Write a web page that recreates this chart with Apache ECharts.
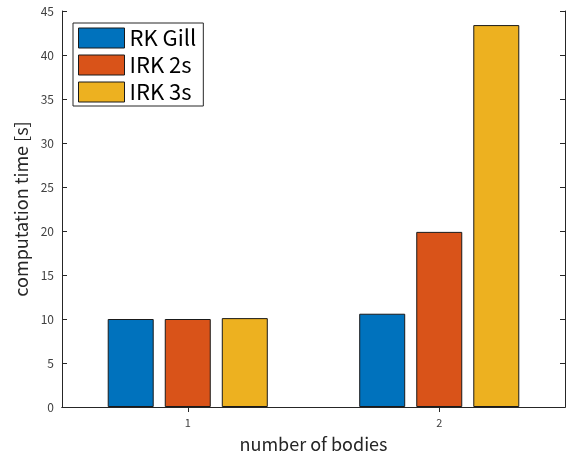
<!DOCTYPE html>
<html>
<head>
<meta charset="utf-8">
<script src="https://cdn.jsdelivr.net/npm/echarts@6/dist/echarts.min.js"></script>
<style>html,body{margin:0;padding:0;background:#fff}#c{width:566px;height:458px}</style>
</head>
<body>
<div id="c"></div>
<script>
const categories = ['1', '2'];
const seriesNames = ['RK Gill', 'IRK 2s', 'IRK 3s'];
const rkGill = [10.0, 10.6];
const irk2s = [10.0, 19.9];
const irk3s = [10.1, 43.4];
const yTicks = { min: 0, max: 45, interval: 5 };

const colors = ['#0072BD', '#D95319', '#EDB120'];
const FONT = '"Noto Sans CJK JP", "Noto Sans", sans-serif';
const chart = echarts.init(document.getElementById('c'), null, { renderer: 'canvas' });
const axisLine = { show: true, lineStyle: { color: '#262626', width: 1 } };
const tick = { show: true, inside: true, length: 5, lineStyle: { color: '#262626' } };
const makeBar = (name, data, i) => ({
  name, type: 'bar', data, barWidth: 46, barGap: '24%',
  itemStyle: { color: colors[i], borderColor: '#1a1a1a', borderWidth: 1 }
});
chart.setOption({
  animation: false,
  textStyle: { fontFamily: FONT },
  grid: { left: 62, right: 1, top: 11, bottom: 49, containLabel: false },
  legend: {
    orient: 'vertical', left: 73, top: 23,
    itemWidth: 46, itemHeight: 20, itemGap: 5,
    padding: [4, 7, 3, 5],
    borderColor: '#262626', borderWidth: 1,
    icon: 'rect',
    itemStyle: { borderColor: '#1a1a1a', borderWidth: 1 },
    textStyle: { fontSize: 22, lineHeight: 20, color: '#000', fontFamily: FONT, padding: [0, 0, 0, 0] },
    data: seriesNames
  },
  xAxis: [
    {
      type: 'category', data: categories, position: 'bottom',
      axisLine, axisTick: Object.assign({ alignWithLabel: true }, tick),
      axisLabel: { color: '#404040', fontSize: 11, margin: 10 },
      name: 'number of bodies', nameLocation: 'middle', nameGap: 28,
      nameTextStyle: { fontSize: 18, color: '#262626' }
    },
    {
      type: 'category', data: categories, position: 'top',
      axisLine, axisTick: Object.assign({ alignWithLabel: true }, tick),
      axisLabel: { show: false }
    }
  ],
  yAxis: [
    {
      type: 'value', min: yTicks.min, max: yTicks.max, interval: yTicks.interval, position: 'left',
      axisLine, axisTick: tick,
      splitLine: { show: false },
      axisLabel: { color: '#404040', fontSize: 12, margin: 8 },
      name: 'computation time [s]', nameLocation: 'middle', nameGap: 30,
      nameTextStyle: { fontSize: 18, color: '#262626' }
    },
    {
      type: 'value', min: yTicks.min, max: yTicks.max, interval: yTicks.interval, position: 'right',
      axisLine, axisTick: tick,
      splitLine: { show: false }, axisLabel: { show: false }
    }
  ],
  series: [makeBar(seriesNames[0], rkGill, 0), makeBar(seriesNames[1], irk2s, 1), makeBar(seriesNames[2], irk3s, 2)]
});
</script>
</body>
</html>
